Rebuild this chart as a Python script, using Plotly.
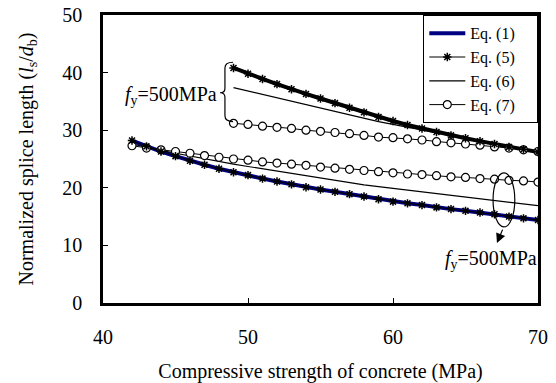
import plotly.graph_objects as go

# ---- data ----
x_low = [42, 43, 44, 45, 46, 47, 48, 49, 50, 51, 52, 53, 54, 55, 56, 57, 58, 59, 60,
         61, 62, 63, 64, 65, 66, 67, 68, 69, 70]
x_up = [49, 50, 51, 52, 53, 54, 55, 56, 57, 58, 59, 60, 61, 62, 63, 64, 65, 66, 67, 68, 69, 70]

eq1_low = [28.2, 27.2, 26.3, 25.5, 24.7, 24.0, 23.3, 22.7, 22.2, 21.6, 21.1, 20.6, 20.1, 19.7,
           19.3, 18.9, 18.5, 18.0, 17.6, 17.3, 17.0, 16.6, 16.3, 16.0, 15.7, 15.4, 15.0, 14.7, 14.4]
eq5_low = [28.2, 27.2, 26.3, 25.5, 24.7, 24.0, 23.3, 22.7, 22.2, 21.6, 21.1, 20.6, 20.1, 19.7,
           19.3, 18.9, 18.5, 18.0, 17.6, 17.3, 17.0, 16.6, 16.3, 16.0, 15.7, 15.4, 15.0, 14.7, 14.4]
eq6_low = [27.6, 27.0, 26.5, 26.0, 25.5, 25.0, 24.5, 24.1, 23.7, 23.3, 22.9, 22.5, 22.1, 21.6,
           21.2, 20.9, 20.5, 20.2, 19.9, 19.6, 19.3, 19.0, 18.7, 18.4, 18.1, 17.8, 17.5, 17.2, 16.9]
eq7_low = [27.3, 26.9, 26.6, 26.3, 26.0, 25.6, 25.3, 25.0, 24.8, 24.5, 24.3, 24.1, 23.9, 23.6,
           23.4, 23.2, 23.0, 22.8, 22.6, 22.4, 22.3, 22.1, 21.9, 21.8, 21.6, 21.5, 21.3, 21.2, 21.0]

eq1_up = [40.8, 39.8, 38.9, 38.0, 37.1, 36.3, 35.5, 34.7, 33.9, 33.1, 32.3, 31.6, 30.9, 30.3,
          29.7, 29.1, 28.6, 28.1, 27.6, 27.1, 26.7, 26.2]
eq5_up = [40.8, 39.8, 38.9, 38.0, 37.1, 36.3, 35.5, 34.7, 33.9, 33.1, 32.3, 31.6, 30.9, 30.3,
          29.7, 29.1, 28.6, 28.1, 27.6, 27.1, 26.7, 26.2]
eq6_up = [37.4, 36.8, 36.2, 35.6, 35.0, 34.4, 33.8, 33.2, 32.6, 32.0, 31.5, 31.0, 30.5, 30.1,
          29.6, 29.0, 28.5, 28.0, 27.5, 27.0, 26.6, 26.1]
eq7_up = [31.2, 31.0, 30.7, 30.5, 30.3, 30.0, 29.8, 29.6, 29.4, 29.1, 28.8, 28.7, 28.5, 28.3,
          28.0, 27.8, 27.6, 27.4, 27.1, 26.9, 26.6, 26.3]

x_ticks = [40, 50, 60, 70]
y_ticks = [0, 10, 20, 30, 40, 50]

FONT = "Liberation Serif, Times New Roman, DejaVu Serif, serif"
NAVY = "#000080"
PAD = "\u00a0\u00a0\u00a0\u00a0"

fig = go.Figure()

# upper group (no legend)
fig.add_trace(go.Scatter(x=x_up, y=eq1_up, mode="lines", line=dict(color="black", width=4),
                         showlegend=False, hoverinfo="skip"))
fig.add_trace(go.Scatter(x=x_up, y=eq6_up, mode="lines", line=dict(color="black", width=1.2),
                         showlegend=False))
fig.add_trace(go.Scatter(x=x_up, y=eq7_up, mode="lines+markers", line=dict(color="black", width=1),
                         marker=dict(symbol="circle", size=8, color="white",
                                     line=dict(color="black", width=1.2)),
                         showlegend=False))
fig.add_trace(go.Scatter(x=x_up, y=eq5_up, mode="lines+markers", line=dict(color="black", width=1),
                         marker=dict(symbol="asterisk-open", size=7,
                                     line=dict(color="black", width=1.5)),
                         showlegend=False))

# lower group (legend)
fig.add_trace(go.Scatter(x=x_low, y=eq1_low, mode="lines", name="Eq. (1)" + PAD,
                         line=dict(color=NAVY, width=4), legendrank=1))
fig.add_trace(go.Scatter(x=x_low, y=eq6_low, mode="lines", name="Eq. (6)" + PAD,
                         line=dict(color="black", width=1.2), legendrank=3))
fig.add_trace(go.Scatter(x=x_low, y=eq7_low, mode="lines+markers", name="Eq. (7)" + PAD,
                         line=dict(color="black", width=1),
                         marker=dict(symbol="circle", size=8, color="white",
                                     line=dict(color="black", width=1.2)), legendrank=4))
fig.add_trace(go.Scatter(x=x_low, y=eq5_low, mode="lines+markers", name="Eq. (5)" + PAD,
                         line=dict(color="black", width=1),
                         marker=dict(symbol="asterisk-open", size=7,
                                     line=dict(color="black", width=1.5)), legendrank=2))

# brace for the upper group
brace = ("M 48.97,41.8 Q 48.41,41.8 48.41,40.8 L 48.41,37.3 Q 48.41,36.5 48.07,36.5 "
         "Q 48.41,36.5 48.41,35.7 L 48.41,32.5 Q 48.41,31.5 48.97,31.5")
fig.add_shape(type="path", path=brace, xref="x", yref="y", line=dict(color="black", width=1.2))

# ellipse around lower group
fig.add_shape(type="circle", xref="x", yref="y", x0=66.9, x1=68.4, y0=13.2, y1=22.6,
              line=dict(color="black", width=1.2))

fig.add_annotation(x=67.17, y=10.4, ax=67.6, ay=13.0, axref="x", ayref="y", xref="x", yref="y",
                   text="", showarrow=True, arrowhead=2, arrowsize=1.6, arrowwidth=1.2,
                   arrowcolor="black")

fig.add_annotation(x=48.0, y=36.1, xref="x", yref="y", xanchor="right", yanchor="middle",
                   text="<i>f</i><sub>y</sub>=500MPa", showarrow=False,
                   font=dict(family=FONT, size=20, color="black"))
fig.add_annotation(x=69.6, y=7.5, xref="x", yref="y", xanchor="right", yanchor="middle",
                   xshift=7,
                   text="<i>f</i><sub>y</sub>=500MPa", showarrow=False,
                   font=dict(family=FONT, size=20, color="black"))

fig.update_layout(
    width=556, height=383,
    margin=dict(l=103, r=18, t=15, b=80, autoexpand=False),
    paper_bgcolor="white", plot_bgcolor="white",
    font=dict(family=FONT, size=20, color="black"),
    legend=dict(x=1, y=1, xanchor="right", yanchor="top", bgcolor="white",
                bordercolor="black", borderwidth=1.3, font=dict(family=FONT, size=16),
                itemwidth=36, tracegroupgap=0),
    xaxis=dict(range=[40, 70], tickvals=x_ticks, ticktext=[str(v) for v in x_ticks],
               ticks="inside", ticklen=5, tickwidth=1, tickcolor="black",
               showline=True, linewidth=2.7, linecolor="black", mirror=True,
               showgrid=False, zeroline=False, ticklabelstandoff=14, automargin=False,
               title=dict(text="Compressive strength of concrete (MPa)", standoff=18,
                          font=dict(family=FONT, size=20))),
    yaxis=dict(range=[0, 50], tickvals=y_ticks, ticktext=[str(v) for v in y_ticks],
               ticks="inside", ticklen=5, tickwidth=1, tickcolor="black",
               showline=True, linewidth=2.7, linecolor="black", mirror=True,
               showgrid=False, zeroline=False, ticklabelstandoff=14, automargin=False,
               title=dict(text="Normalized splice length (<i>l</i><sub>s</sub>/<i>d</i><sub>b</sub>)",
                          standoff=24, font=dict(family=FONT, size=20))),
)

fig.write_html("out.html", config={"displayModeBar": False},
               post_script="document.body.style.margin='0px';")
